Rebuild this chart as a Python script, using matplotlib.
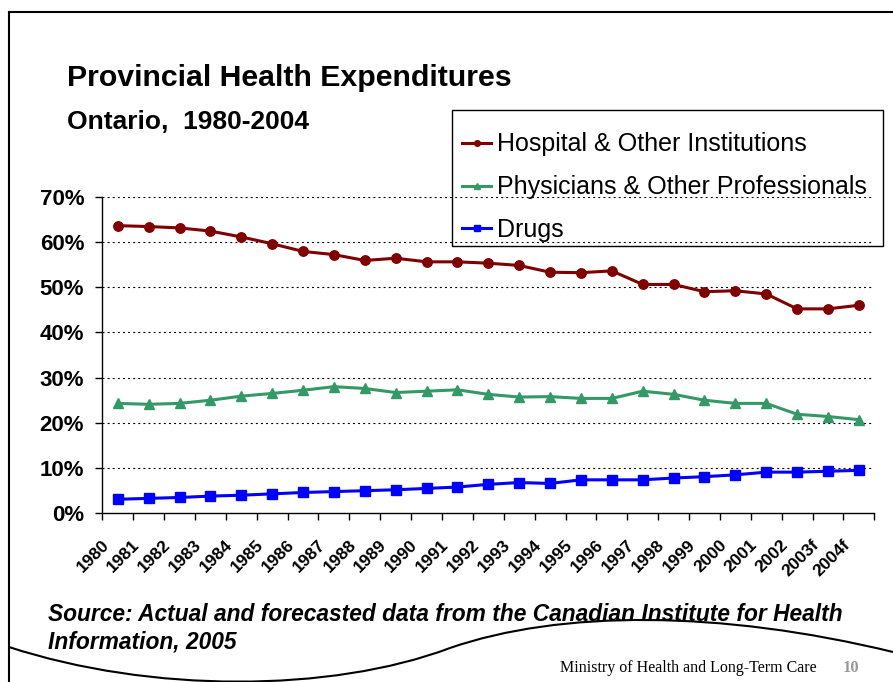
import matplotlib
matplotlib.use('Agg')
import matplotlib.pyplot as plt
import matplotlib.transforms as mtransforms
from matplotlib.lines import Line2D
from matplotlib.path import Path
from matplotlib.patches import PathPatch, Rectangle
from matplotlib.ticker import PercentFormatter, FixedLocator

plt.rcParams['font.family'] = ['Liberation Sans', 'DejaVu Sans']

years = ['1980', '1981', '1982', '1983', '1984', '1985', '1986', '1987', '1988',
         '1989', '1990', '1991', '1992', '1993', '1994', '1995', '1996', '1997',
         '1998', '1999', '2000', '2001', '2002', '2003f', '2004f']

hospital = [63.6, 63.4, 63.1, 62.4, 61.1, 59.6, 57.9, 57.2, 55.9, 56.4, 55.6, 55.6,
            55.3, 54.8, 53.3, 53.2, 53.6, 50.6, 50.6, 49.0, 49.2, 48.5, 45.2, 45.2, 46.0]
physicians = [24.3, 24.1, 24.3, 25.0, 25.9, 26.5, 27.2, 28.0, 27.6, 26.7, 27.0, 27.3,
              26.3, 25.7, 25.8, 25.4, 25.4, 27.0, 26.3, 25.0, 24.3, 24.3, 21.9, 21.4, 20.7]
drugs = [3.1, 3.3, 3.5, 3.8, 4.0, 4.3, 4.6, 4.8, 5.0, 5.2, 5.5, 5.8,
         6.4, 6.8, 6.6, 7.4, 7.4, 7.4, 7.8, 8.1, 8.5, 9.1, 9.1, 9.3, 9.5]

W, H = 893, 682
fig = plt.figure(figsize=(W / 100, H / 100), dpi=100)
ax = fig.add_axes([102.3 / W, 1 - 513.3 / H, 772 / W, 316.6 / H])

x = list(range(len(years)))
ax.plot(x, hospital, color='#800000', lw=2.2, marker='o', ms=6.8,
        label='Hospital & Other Institutions')
ax.plot(x, physicians, color='#339966', lw=2.2, marker='^', ms=7.5,
        label='Physicians & Other Professionals')
ax.plot(x, drugs, color='#0000FF', lw=2.2, marker='s', ms=6.5,
        label='Drugs')

ax.set_xlim(-0.5, len(years) - 0.5)
ax.set_ylim(0, 70)

# gridlines (dotted)
for v in range(10, 80, 10):
    ax.axhline(v, color='black', lw=0.8, linestyle=(0, (1.8, 2.8)), zorder=0.5)

ax.spines['top'].set_visible(False)
ax.spines['right'].set_visible(False)
ax.spines['left'].set_linewidth(1.0)
ax.spines['bottom'].set_linewidth(1.0)

ax.yaxis.set_major_locator(FixedLocator(range(0, 80, 10)))
ax.yaxis.set_major_formatter(PercentFormatter(decimals=0))
ax.tick_params(axis='y', length=5, width=1, pad=8, labelsize=16)
for lab in ax.get_yticklabels():
    lab.set_fontweight('bold')

ax.set_xticks(x)
ax.set_xticklabels(years, rotation=45, ha='right', va='baseline',
                   rotation_mode='anchor', fontsize=12.5, fontweight='bold')
ax.set_xticks([i - 0.5 for i in range(len(years) + 1)], minor=True)
ax.tick_params(axis='x', which='major', length=0, pad=23)
ax.tick_params(axis='x', which='minor', length=5, width=1)
offset = mtransforms.ScaledTranslation(-8 / 100, 0, fig.dpi_scale_trans)
for lab in ax.get_xticklabels():
    lab.set_transform(lab.get_transform() + offset)

# legend without its own frame; box drawn separately
ax.legend(loc='upper left', bbox_to_anchor=(462 / W, 1 - 132.5 / H),
          bbox_transform=fig.transFigure, borderaxespad=0, borderpad=0,
          fontsize=18, frameon=False, markerscale=0.6, handlelength=1.16,
          handletextpad=0.24, labelspacing=0.75)
fig.add_artist(Rectangle((452 / W, 1 - 246 / H), 431 / W, 136 / H,
                         transform=fig.transFigure, fill=False,
                         edgecolor='black', lw=1.0))

# titles
fig.text(67 / W, 1 - 86 / H, 'Provincial Health Expenditures', fontsize=21.8,
         fontweight='bold', va='baseline', ha='left')
fig.text(67 / W, 1 - 129 / H, 'Ontario,  1980-2004', fontsize=19,
         fontweight='bold', va='baseline', ha='left')

# source note
fig.text(48 / W, 1 - 621 / H,
         'Source: Actual and forecasted data from the Canadian Institute for Health',
         fontsize=16.4, fontweight='bold', style='italic', va='baseline', ha='left')
fig.text(48 / W, 1 - 649 / H, 'Information, 2005',
         fontsize=16.4, fontweight='bold', style='italic', va='baseline', ha='left')

# slide frame and wave
fig.add_artist(Line2D([9 / W, 9 / W], [0, 1 - 12 / H], transform=fig.transFigure,
                      color='black', lw=1.5))
fig.add_artist(Line2D([9 / W, 1], [1 - 12 / H, 1 - 12 / H], transform=fig.transFigure,
                      color='black', lw=1.5))
pts = [(9, 647), (150, 693), (330, 693), (450, 648),
       (560, 610), (720, 610), (893, 652)]
verts = [(px / W, 1 - py / H) for px, py in pts]
codes = [Path.MOVETO] + [Path.CURVE4] * 6
fig.add_artist(PathPatch(Path(verts, codes), transform=fig.transFigure,
                         facecolor='none', edgecolor='black', lw=1.5))

fig.text(560 / W, 1 - 672 / H, 'Ministry of Health and Long-Term Care',
         family='Liberation Serif', fontsize=11.5, va='baseline', ha='left')
fig.text(843 / W, 1 - 672 / H, '10', family='Liberation Serif', fontsize=12,
         fontweight='bold', color='#999999', va='baseline', ha='left')

fig.savefig('out.png', dpi=100)
